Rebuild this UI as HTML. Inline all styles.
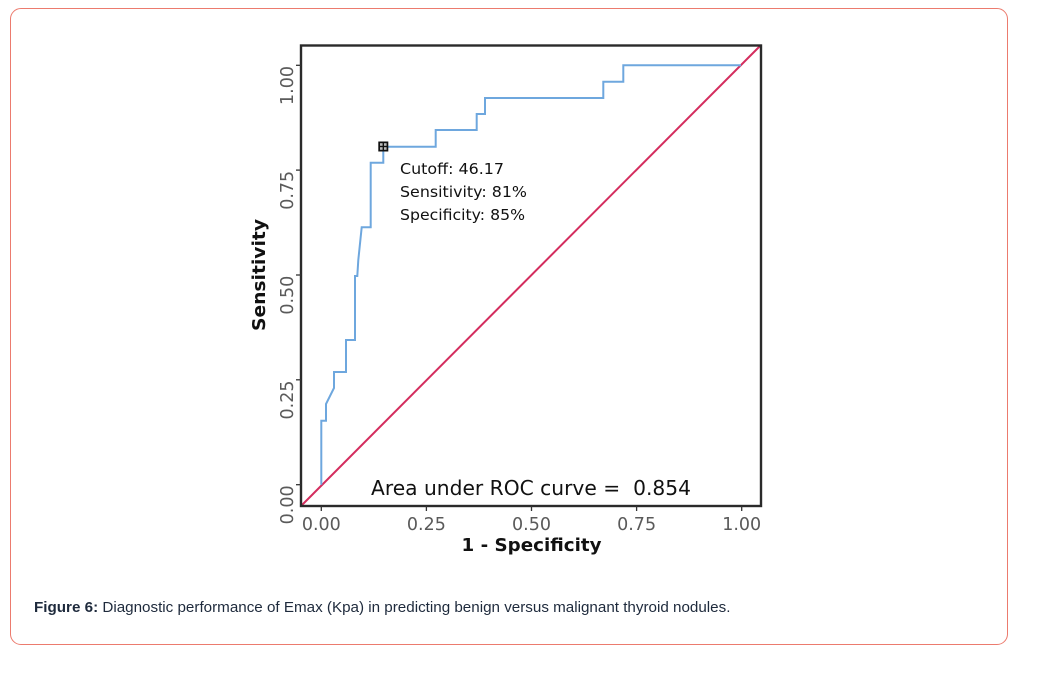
<!DOCTYPE html>
<html><head><meta charset="utf-8"><style>
html,body{margin:0;padding:0;background:#fff;}
body{width:1061px;height:690px;position:relative;overflow:hidden;}
.box{position:absolute;left:10px;top:8px;width:998px;height:637px;border:1.5px solid #ec7b6e;border-radius:11px;box-sizing:border-box;}
.cap{position:absolute;left:34px;top:599px;font-family:"Liberation Sans",Arial,sans-serif;font-size:15.2px;color:#1e2a3c;white-space:nowrap;}
svg{position:absolute;left:0;top:0;}
</style></head><body>
<div class="box"></div>
<svg width="1061" height="690" xmlns="http://www.w3.org/2000/svg" font-family="DejaVu Sans, sans-serif">
  <!-- diagonal -->
  <line x1="301" y1="506" x2="761" y2="45" stroke="#d42d5e" stroke-width="2"/>
  <!-- ROC -->
  <polyline fill="none" stroke="#6ea7de" stroke-width="2" points="321.3,484.7 321.3,420.7 326,420.7 326,404 334,388 334,372 346,372 346,340 355,340 355,276 357.3,276 358.3,260 361.7,227.3 370.7,227.3 370.7,162.7 383.3,162.7 383.3,146.7 435.7,146.7 435.7,130 476.7,130 476.7,114 485,114 485,98 603.3,98 603.3,81.7 623.3,81.7 623.3,65.3 741,65.3"/>
  <!-- marker -->
  <rect x="378.3" y="141.5" width="10" height="10" fill="#111"/>
  <rect x="380" y="143.2" width="2.6" height="2.6" fill="#bbb"/>
  <rect x="384" y="143.2" width="2.6" height="2.6" fill="#bbb"/>
  <rect x="380" y="147.2" width="2.6" height="2.6" fill="#bbb"/>
  <rect x="384" y="147.2" width="2.6" height="2.6" fill="#bbb"/>
  <!-- frame -->
  <rect x="301" y="45.5" width="460" height="460.5" fill="none" stroke="#2a2a2a" stroke-width="2.4"/>
  <!-- ticks -->
  <g stroke="#333" stroke-width="1.3">
    <line x1="296" y1="65.3" x2="301" y2="65.3"/>
    <line x1="296" y1="170.1" x2="301" y2="170.1"/>
    <line x1="296" y1="275" x2="301" y2="275"/>
    <line x1="296" y1="379.8" x2="301" y2="379.8"/>
    <line x1="296" y1="484.7" x2="301" y2="484.7"/>
    <line x1="321.3" y1="506" x2="321.3" y2="511"/>
    <line x1="426.4" y1="506" x2="426.4" y2="511"/>
    <line x1="531.5" y1="506" x2="531.5" y2="511"/>
    <line x1="636.6" y1="506" x2="636.6" y2="511"/>
    <line x1="741.7" y1="506" x2="741.7" y2="511"/>
  </g>
  <g fill="#5a5a5a" font-size="17.5" text-anchor="middle">
    <text x="321.3" y="530">0.00</text>
    <text x="426.4" y="530">0.25</text>
    <text x="531.5" y="530">0.50</text>
    <text x="636.6" y="530">0.75</text>
    <text x="741.7" y="530">1.00</text>
  </g>
  <g fill="#5a5a5a" font-size="17.5" text-anchor="end">
    <text transform="translate(293,66) rotate(-90)">1.00</text>
    <text transform="translate(293,170.8) rotate(-90)">0.75</text>
    <text transform="translate(293,275.7) rotate(-90)">0.50</text>
    <text transform="translate(293,380.5) rotate(-90)">0.25</text>
    <text transform="translate(293,485.4) rotate(-90)">0.00</text>
  </g>
  <text x="531.5" y="551" font-size="18" font-weight="bold" text-anchor="middle" fill="#111" textLength="140" lengthAdjust="spacingAndGlyphs">1 - Specificity</text>
  <text transform="translate(265,275) rotate(-90)" font-size="18" font-weight="bold" text-anchor="middle" fill="#111" textLength="112" lengthAdjust="spacingAndGlyphs">Sensitivity</text>
  <g font-size="15" fill="#111">
    <text x="400" y="174" textLength="104" lengthAdjust="spacingAndGlyphs">Cutoff: 46.17</text>
    <text x="400" y="197" textLength="127" lengthAdjust="spacingAndGlyphs">Sensitivity: 81%</text>
    <text x="400" y="220" textLength="125" lengthAdjust="spacingAndGlyphs">Specificity: 85%</text>
  </g>
  <text x="371" y="495" font-size="20" fill="#111" textLength="320" lengthAdjust="spacingAndGlyphs" xml:space="preserve">Area under ROC curve =  0.854</text>
</svg>
<div class="cap"><b>Figure 6:</b> Diagnostic performance of Emax (Kpa) in predicting benign versus malignant thyroid nodules.</div>
</body></html>
